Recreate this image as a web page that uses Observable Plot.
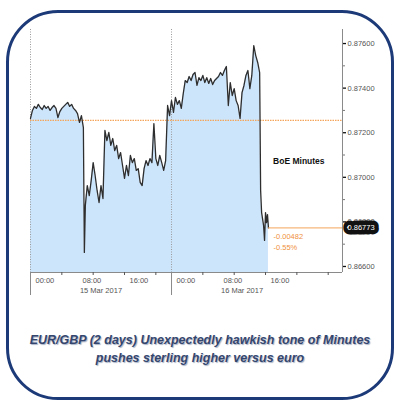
<!DOCTYPE html>
<html>
<head>
<meta charset="utf-8">
<script src="https://cdn.jsdelivr.net/npm/d3@7"></script>
<script src="https://cdn.jsdelivr.net/npm/@observablehq/plot@0.6"></script>
<style>
  html, body { margin: 0; padding: 0; background: #fff; }
  body { width: 400px; height: 406px; position: relative; overflow: hidden; }
  #frame { position: absolute; left: 6px; top: 10px; width: 382px; height: 384px;
           border: 3px solid #1d3a78; border-radius: 52px; box-sizing: content-box; }
  #chart { position: absolute; left: 0; top: 0; width: 400px; height: 300px; }
  #caption { position: absolute; left: 0; top: 331px; width: 400px; text-align: center;
             font-family: "Liberation Sans Narrow", "Liberation Sans", sans-serif;
             font-weight: bold; font-style: italic; font-size: 12.5px; line-height: 18px;
             color: #34466e; text-shadow: 1px 1px 1px #a9b2c4; }
</style>
</head>
<body>
<div id="frame"></div>
<div id="chart"></div>
<div id="caption">EUR/GBP (2 days) Unexpectedly hawkish tone of Minutes<br>pushes sterling higher versus euro</div>
<script>
// ---- data (EUR/GBP, 15-16 Mar 2017) ----
const times = [
  "2017-03-15T00:00Z","2017-03-15T00:20Z","2017-03-15T00:40Z","2017-03-15T01:00Z","2017-03-15T01:20Z","2017-03-15T01:40Z",
  "2017-03-15T02:00Z","2017-03-15T02:20Z","2017-03-15T02:40Z","2017-03-15T03:00Z","2017-03-15T03:20Z","2017-03-15T03:40Z",
  "2017-03-15T04:00Z","2017-03-15T04:20Z","2017-03-15T04:40Z","2017-03-15T05:00Z","2017-03-15T05:20Z","2017-03-15T05:40Z",
  "2017-03-15T06:00Z","2017-03-15T06:20Z","2017-03-15T06:40Z","2017-03-15T07:00Z","2017-03-15T07:20Z","2017-03-15T07:40Z",
  "2017-03-15T08:00Z","2017-03-15T08:20Z","2017-03-15T08:40Z","2017-03-15T09:00Z","2017-03-15T09:10Z","2017-03-15T09:20Z",
  "2017-03-15T09:40Z","2017-03-15T10:00Z","2017-03-15T10:20Z","2017-03-15T10:40Z","2017-03-15T11:00Z","2017-03-15T11:20Z",
  "2017-03-15T11:40Z","2017-03-15T12:00Z","2017-03-15T12:20Z","2017-03-15T12:40Z","2017-03-15T13:00Z","2017-03-15T13:20Z",
  "2017-03-15T13:40Z","2017-03-15T14:00Z","2017-03-15T14:20Z","2017-03-15T14:40Z","2017-03-15T15:00Z","2017-03-15T15:20Z",
  "2017-03-15T15:40Z","2017-03-15T16:00Z","2017-03-15T16:20Z","2017-03-15T16:40Z","2017-03-15T17:00Z","2017-03-15T17:20Z",
  "2017-03-15T17:40Z","2017-03-15T18:00Z","2017-03-15T18:20Z","2017-03-15T18:40Z","2017-03-15T19:00Z","2017-03-15T19:20Z",
  "2017-03-15T19:40Z","2017-03-15T20:00Z","2017-03-15T20:20Z","2017-03-15T20:40Z","2017-03-15T21:00Z","2017-03-15T21:20Z",
  "2017-03-15T21:40Z","2017-03-15T22:00Z","2017-03-15T22:20Z","2017-03-15T22:40Z","2017-03-15T23:00Z","2017-03-15T23:20Z",
  "2017-03-15T23:40Z",
  "2017-03-16T00:00Z","2017-03-16T00:20Z","2017-03-16T00:40Z","2017-03-16T01:00Z","2017-03-16T01:20Z","2017-03-16T01:40Z",
  "2017-03-16T02:00Z","2017-03-16T02:20Z","2017-03-16T02:40Z","2017-03-16T03:00Z","2017-03-16T03:20Z","2017-03-16T03:40Z",
  "2017-03-16T04:00Z","2017-03-16T04:20Z","2017-03-16T04:40Z","2017-03-16T05:00Z","2017-03-16T05:20Z","2017-03-16T05:40Z",
  "2017-03-16T06:00Z","2017-03-16T06:20Z","2017-03-16T06:40Z","2017-03-16T07:00Z","2017-03-16T07:20Z","2017-03-16T07:40Z",
  "2017-03-16T08:00Z","2017-03-16T08:20Z","2017-03-16T08:40Z","2017-03-16T09:00Z","2017-03-16T09:20Z","2017-03-16T09:40Z",
  "2017-03-16T10:00Z","2017-03-16T10:20Z","2017-03-16T10:40Z","2017-03-16T11:00Z","2017-03-16T11:20Z","2017-03-16T11:40Z",
  "2017-03-16T12:00Z","2017-03-16T12:20Z","2017-03-16T12:40Z","2017-03-16T13:00Z","2017-03-16T13:20Z","2017-03-16T13:40Z",
  "2017-03-16T14:00Z","2017-03-16T14:20Z","2017-03-16T14:40Z","2017-03-16T15:00Z","2017-03-16T15:10Z","2017-03-16T15:20Z",
  "2017-03-16T15:40Z","2017-03-16T15:50Z","2017-03-16T16:00Z","2017-03-16T16:10Z","2017-03-16T16:20Z","2017-03-16T16:30Z"
];
const values = [
  0.87264,0.87300,0.87318,0.87309,0.87327,0.87313,
  0.87304,0.87322,0.87309,0.87318,0.87300,0.87313,
  0.87322,0.87309,0.87268,0.87295,0.87309,0.87318,
  0.87327,0.87336,0.87318,0.87327,0.87309,0.87300,
  0.87286,0.87246,0.87277,0.87223,0.86663,0.86874,
  0.86963,0.86918,0.86986,0.87066,0.87008,0.86941,
  0.86887,0.86963,0.86905,0.87210,0.87165,0.87201,
  0.87143,0.87174,0.87120,0.87143,0.87084,0.87111,
  0.87053,0.86995,0.87053,0.87008,0.87098,0.87066,
  0.87084,0.87031,0.87039,0.86977,0.86963,0.87039,
  0.87075,0.87053,0.87084,0.87066,0.87241,0.87084,
  0.87053,0.87098,0.87066,0.87031,0.87075,0.87322,
  0.87277,
  0.87344,0.87291,0.87358,0.87327,0.87344,0.87309,
  0.87376,0.87434,0.87425,0.87452,0.87434,0.87461,
  0.87470,0.87412,0.87447,0.87434,0.87457,0.87425,
  0.87447,0.87421,0.87443,0.87416,0.87434,0.87443,
  0.87452,0.87470,0.87457,0.87479,0.87497,0.87322,
  0.87425,0.87367,0.87398,0.87344,0.87322,0.87264,
  0.87380,0.87412,0.87457,0.87479,0.87398,0.87457,
  0.87591,0.87546,0.87515,0.87470,0.86941,0.86842,
  0.86784,0.86717,0.86842,0.86797,0.86833,0.86773
];
const prevClose = 0.87255;
const netChange = "-0.00482";
const pctChange = "-0.55%";
const annotation = "BoE Minutes";
const annotationAt = ["2017-03-16T21:40Z", 0.87071];
const xDomain = ["2017-03-15T00:00Z", "2017-03-17T05:06Z"];
const yDomain = [0.86573, 0.87663];
const dayStarts = ["2017-03-15T00:00Z", "2017-03-16T00:00Z"];
const dayMid = ["2017-03-15T12:00Z", "2017-03-16T12:00Z"];
const hourLabels = ["2017-03-15T00:00Z","2017-03-15T08:00Z","2017-03-15T16:00Z",
                    "2017-03-16T00:00Z","2017-03-16T08:00Z","2017-03-16T16:00Z"];
const minorX = ["2017-03-15T05:20Z","2017-03-15T10:40Z","2017-03-15T16:00Z","2017-03-15T21:20Z",
                "2017-03-16T05:20Z","2017-03-16T10:40Z","2017-03-16T16:00Z","2017-03-16T21:20Z",
                "2017-03-17T02:40Z"];
const yTicks = [0.866, 0.868, 0.870, 0.872, 0.874, 0.876];
const yMinor = [0.867, 0.869, 0.871, 0.873, 0.875];

// ---- build ----
const D = s => new Date(s);
const data = times.map((t, i) => ({t: D(t), v: values[i]}));
const last = data[data.length - 1];
const xEnd = D(xDomain[1]);

const chart = Plot.plot({
  width: 400, height: 300,
  marginLeft: 30, marginRight: 58, marginTop: 29, marginBottom: 28,
  style: {fontFamily: "'Liberation Sans Narrow', 'Liberation Sans', sans-serif", fontSize: "7.5px", color: "#555", background: "transparent"},
  x: {type: "utc", domain: xDomain.map(D), label: null},
  y: {domain: yDomain, label: null},
  marks: [
    Plot.areaY(data, {x: "t", y1: yDomain[0], y2: "v", fill: "#cde5fb"}),
    Plot.ruleX(dayStarts.map(D), {stroke: "#9a9a9a", strokeDasharray: "1,1.5"}),
    Plot.ruleY([prevClose], {stroke: "#f4a55a", strokeWidth: 1.2, strokeDasharray: "1.5,1"}),
    Plot.lineY(data, {x: "t", y: "v", stroke: "#2e2e2e", strokeWidth: 1.3}),
    Plot.ruleY([last.v], {x1: last.t, x2: xEnd, stroke: "#f4a55a", strokeWidth: 1}),
    Plot.ruleX([xEnd], {stroke: "#8a8a8a"}),
    Plot.ruleY([yDomain[0]], {stroke: "#8a8a8a"}),
    Plot.axisX(dayStarts.map(D), {tickSize: 23, tickFormat: () => "", stroke: "#8a8a8a", label: null}),
    Plot.axisX(minorX.map(D), {tickSize: 3, tickFormat: () => "", stroke: "#555", label: null}),
    Plot.axisX(hourLabels.map(D), {tickSize: 0, tickPadding: 5, tickFormat: "%H:%M", textAnchor: "start", dx: 5, fill: "#555", label: null}),
    Plot.axisX(dayMid.map(D), {tickSize: 0, tickPadding: 15, tickFormat: "%d %b %Y", fill: "#555", label: null}),
    Plot.axisY(yTicks, {anchor: "right", tickSize: 3, tickPadding: 2, tickFormat: ".5f", stroke: "#111", strokeWidth: 1.3, fill: "#555", label: null}),
    Plot.axisY(yMinor, {anchor: "right", tickSize: 2, tickFormat: () => "", stroke: "#777", label: null}),
    Plot.text([last], {x: () => xEnd, y: "v", text: d => d.v.toFixed(5), textAnchor: "start", dx: 5,
                       fill: "white", stroke: "#111", strokeWidth: 9, strokeLinejoin: "round", fontSize: 7.5}),
    Plot.text([last], {x: "t", y: "v", text: () => netChange + "\n" + pctChange, textAnchor: "start", lineAnchor: "top",
                       dx: 5, dy: 3, lineHeight: 1.5, fill: "#f0913c", fontSize: 7.5}),
    Plot.text([annotationAt], {x: d => D(d[0]), y: d => d[1], text: () => annotation, fontWeight: "bold", fill: "#111", fontSize: 8.5})
  ]
});
document.getElementById("chart").appendChild(chart);
</script>
</body>
</html>
